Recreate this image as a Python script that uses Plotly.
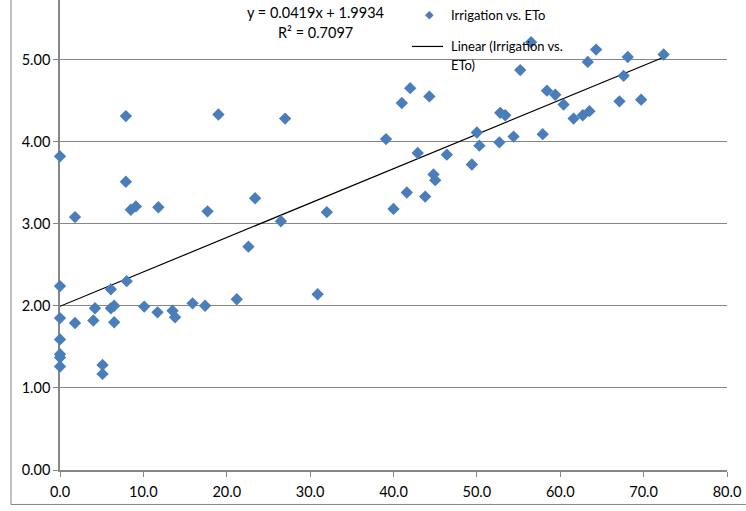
import plotly.graph_objects as go

eto = [0.0, 0.0, 0.0, 0.0, 0.0, 0.0, 0.0,
       1.8, 1.8, 4.0, 4.2, 5.1, 5.1, 6.1, 6.1, 6.5, 6.5,
       7.9, 7.9, 8.0, 8.5, 9.1, 10.1, 11.7, 11.8, 13.5, 13.8,
       15.9, 17.4, 17.7, 19.0, 21.2, 22.6, 23.4, 26.5, 27.0,
       30.9, 32.0, 39.1, 40.0, 41.0, 41.6, 42.0, 42.9, 43.8, 44.3,
       44.8, 45.0, 46.4, 49.4, 50.0, 50.3, 52.7, 52.8, 53.4, 54.4,
       55.2, 56.5, 57.9, 58.4, 59.4, 60.4, 61.6, 62.7, 63.3, 63.5,
       64.3, 67.1, 67.6, 68.1, 69.7, 72.4]
irrigation = [3.82, 2.24, 1.85, 1.59, 1.41, 1.37, 1.26,
              3.08, 1.79, 1.82, 1.97, 1.28, 1.17, 2.20, 1.97, 2.00, 1.80,
              4.31, 3.51, 2.30, 3.17, 3.21, 1.99, 1.92, 3.20, 1.94, 1.86,
              2.03, 2.00, 3.15, 4.33, 2.08, 2.72, 3.31, 3.03, 4.28,
              2.14, 3.14, 4.03, 3.18, 4.47, 3.38, 4.65, 3.86, 3.33, 4.55,
              3.60, 3.53, 3.84, 3.72, 4.11, 3.95, 3.99, 4.35, 4.32, 4.06,
              4.87, 5.21, 4.09, 4.62, 4.57, 4.45, 4.28, 4.32, 4.97, 4.37,
              5.12, 4.49, 4.80, 5.03, 4.51, 5.06]

slope = 0.0419
intercept = 1.9934
r2 = 0.7097

x_ticks = [0, 10, 20, 30, 40, 50, 60, 70, 80]
y_ticks = [0, 1, 2, 3, 4, 5]

trend_x = [min(eto), max(eto)]
trend_y = [slope * v + intercept for v in trend_x]

FONT = "Lato"
BLUE = "#4A7EBB"
GRID = "#868686"

fig = go.Figure()
fig.add_trace(go.Scatter(
    x=trend_x, y=trend_y, mode="lines",
    line=dict(color="black", width=1.2),
    name="Linear (Irrigation vs. ETo)", showlegend=False))
fig.add_trace(go.Scatter(
    x=eto, y=irrigation, mode="markers", cliponaxis=False,
    marker=dict(symbol="diamond", size=9.5, color=BLUE, line=dict(width=0)),
    name="Irrigation vs. ETo", showlegend=False))

# plot area: x px 60..727, y px 0..470.5
PX0, PX1, PY0 = 60, 727, 470.5
def px(xp):
    return (xp - PX0) / (PX1 - PX0)
def py(yp):
    return (PY0 - yp) / PY0

shapes = [
    dict(type="line", xref="paper", yref="paper", x0=px(11), x1=px(11), y0=py(505), y1=py(-5),
         line=dict(color=GRID, width=1)),
    dict(type="line", xref="paper", yref="paper", x0=px(11), x1=px(760), y0=py(505), y1=py(505),
         line=dict(color=GRID, width=1)),
    dict(type="line", xref="paper", yref="paper", x0=px(412), x1=px(443), y0=py(46.5), y1=py(46.5),
         line=dict(color="black", width=1.2)),
]

annotations = [
    dict(xref="paper", yref="paper", x=px(315), y=py(13), text=f"y = {slope}x + {intercept}",
         showarrow=False, font=dict(family=FONT, size=14.5, color="black"), xanchor="center", yanchor="middle"),
    dict(xref="paper", yref="paper", x=px(315), y=py(33), text=f"R² = {r2}",
         showarrow=False, font=dict(family=FONT, size=14.5, color="black"), xanchor="center", yanchor="middle"),
    dict(xref="paper", yref="paper", x=px(429), y=py(15), text="◆",
         showarrow=False, font=dict(family="DejaVu Sans", size=11, color=BLUE), xanchor="center", yanchor="middle"),
    dict(xref="paper", yref="paper", x=px(449), y=py(15), text="Irrigation vs. ETo",
         showarrow=False, font=dict(family=FONT, size=13, color="black"), xanchor="left", yanchor="middle"),
    dict(xref="paper", yref="paper", x=px(449), y=py(46), text="Linear (Irrigation vs.",
         showarrow=False, font=dict(family=FONT, size=13, color="black"), xanchor="left", yanchor="middle"),
    dict(xref="paper", yref="paper", x=px(449), y=py(65), text="ETo)",
         showarrow=False, font=dict(family=FONT, size=13, color="black"), xanchor="left", yanchor="middle"),
]

fig.update_layout(
    width=746, height=511,
    margin=dict(l=PX0, r=746 - PX1, t=0, b=511 - PY0),
    paper_bgcolor="white", plot_bgcolor="white",
    font=dict(family=FONT, size=14, color="black"),
    shapes=shapes, annotations=annotations,
    showlegend=False,
)
fig.update_xaxes(
    range=[0, 80], tickvals=x_ticks, ticktext=[f"{v:.1f}" for v in x_ticks],
    showgrid=False, zeroline=False, showline=True, linecolor=GRID, linewidth=1.5,
    ticks="outside", ticklen=5, tickcolor=GRID, tickfont=dict(family=FONT, size=14.5),
    layer="below traces", ticklabelstandoff=3,
)
fig.update_yaxes(
    range=[0, PY0 / 82.2], tickvals=y_ticks, ticktext=[f"{v:.2f}" for v in y_ticks],
    showgrid=True, gridcolor=GRID, gridwidth=1, zeroline=False,
    showline=True, linecolor=GRID, linewidth=1.5,
    ticks="outside", ticklen=5, tickcolor=GRID, tickfont=dict(family=FONT, size=14.5),
    layer="below traces",
)

fig.write_html("out.html")
